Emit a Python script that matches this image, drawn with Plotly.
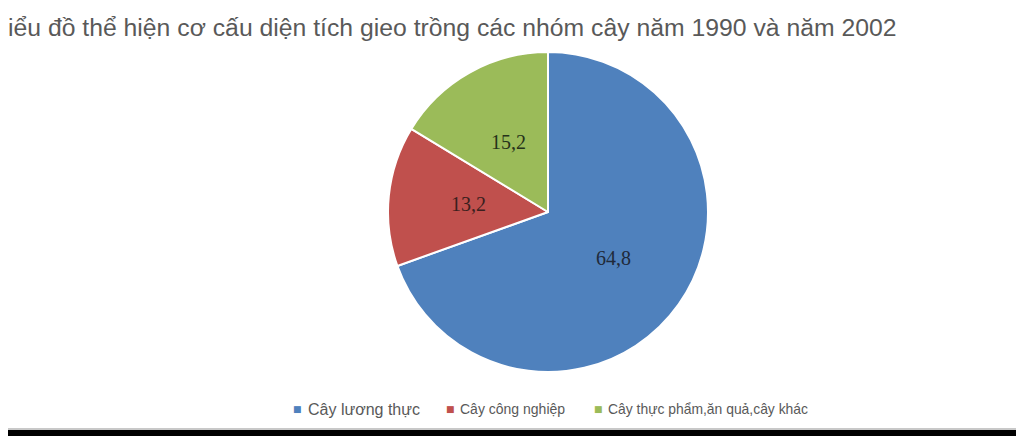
import math
import plotly.graph_objects as go

title_text = "iểu đồ thể hiện cơ cấu diện tích gieo trồng các nhóm cây năm 1990 và năm 2002"
categories = ["Cây lương thực", "Cây công nghiệp", "Cây thực phẩm,ăn quả,cây khác"]
values = [64.8, 13.2, 15.2]
value_labels = ["64,8", "13,2", "15,2"]
colors = ["#4F81BD", "#C0504D", "#9BBB59"]
label_colors = ["#1f2a3a", "#3a1f1e", "#26321a"]

# page body has an 8px margin, so the figure is sized to fit the window
W, H = 1016, 428

# pie placement (pixels inside the figure)
pie_cx, pie_cy, pie_r = 540, 204, 160
label_radius_frac = 0.5

# legend layout (pixel positions of each entry, font size of its label)
legend_marker_x = [289, 442, 590]
legend_text_x = [298, 450, 598]
legend_font_size = [16, 14, 13.9]
legend_y = 401

fig = go.Figure(go.Pie(
    labels=categories,
    values=values,
    textinfo="none",
    marker=dict(colors=colors, line=dict(color="white", width=2)),
    sort=False,
    direction="clockwise",
    rotation=0,
    text=value_labels,
    hoverinfo="label+text",
    showlegend=False,
    domain=dict(x=[(pie_cx - pie_r) / W, (pie_cx + pie_r) / W],
                y=[(H - pie_cy - pie_r) / H, (H - pie_cy + pie_r) / H]),
))

annotations = []
# value labels at half radius along each slice's bisector (Excel-style)
total = sum(values)
cum = 0.0
for i, v in enumerate(values):
    theta = 2 * math.pi * (cum + v / 2) / total
    cum += v
    px = pie_cx + label_radius_frac * pie_r * math.sin(theta)
    py = pie_cy - label_radius_frac * pie_r * math.cos(theta)
    annotations.append(dict(
        text=value_labels[i], x=px / W, y=1 - py / H,
        xref="paper", yref="paper", xanchor="center", yanchor="middle",
        showarrow=False,
        font=dict(family="Liberation Serif", size=20, color=label_colors[i]),
    ))

for i, name in enumerate(categories):
    annotations.append(dict(
        text="■", x=legend_marker_x[i] / W, y=1 - legend_y / H,
        xref="paper", yref="paper", xanchor="center", yanchor="middle",
        showarrow=False, font=dict(family="DejaVu Sans", size=9, color=colors[i]),
    ))
    annotations.append(dict(
        text=name, x=legend_text_x[i] / W, y=1 - legend_y / H,
        xref="paper", yref="paper", xanchor="left", yanchor="middle",
        showarrow=False,
        font=dict(family="Liberation Sans", size=legend_font_size[i], color="#595959"),
    ))

fig.update_layout(
    width=W, height=H,
    margin=dict(l=0, r=0, t=0, b=0),
    paper_bgcolor="white",
    plot_bgcolor="white",
    font=dict(family="Liberation Sans", color="#595959"),
    title=dict(text=title_text, x=0.0, xanchor="left", xref="container",
               y=1 - 19 / H, yanchor="middle", yref="container",
               font=dict(family="Liberation Sans", size=24.75, color="#595959")),
    annotations=annotations,
    shapes=[
        dict(type="rect", xref="paper", yref="paper", x0=0, x1=1, y0=0, y1=8 / H,
             fillcolor="#c8c8c8", line=dict(width=0), layer="above"),
        dict(type="rect", xref="paper", yref="paper", x0=0, x1=1, y0=0, y1=6 / H,
             fillcolor="black", line=dict(width=0), layer="above"),
    ],
)

fig.write_html("out.html")
